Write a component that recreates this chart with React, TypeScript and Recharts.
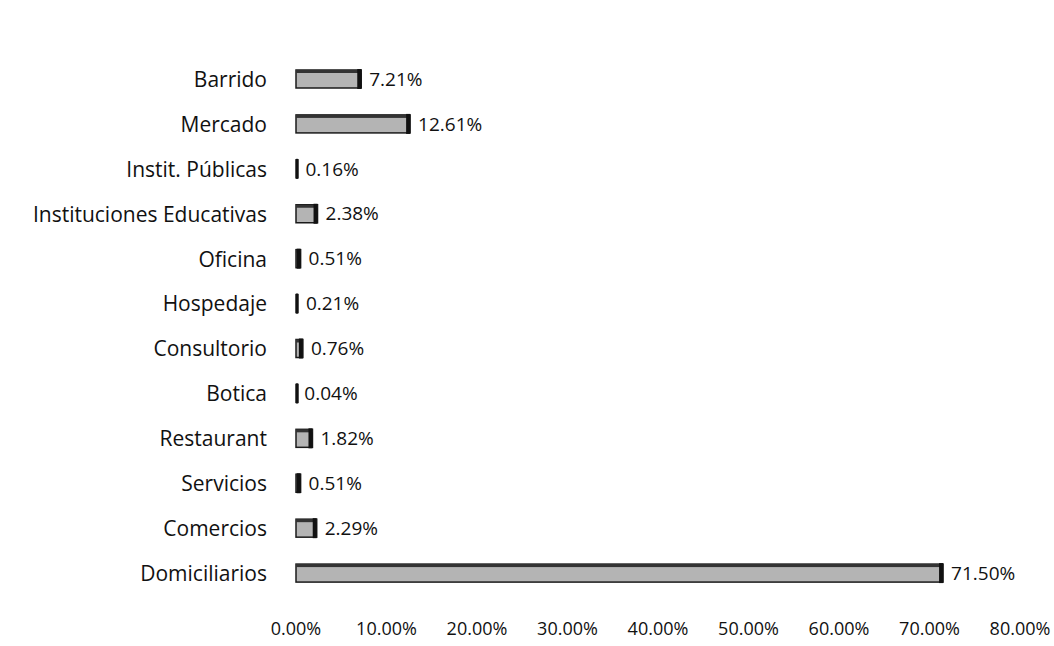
import React from 'react';
import { BarChart, Bar, XAxis, YAxis, LabelList } from 'recharts';

const categories = [
  'Barrido',
  'Mercado',
  'Instit. Públicas',
  'Instituciones Educativas',
  'Oficina',
  'Hospedaje',
  'Consultorio',
  'Botica',
  'Restaurant',
  'Servicios',
  'Comercios',
  'Domiciliarios',
];

const shares = [7.21, 12.61, 0.16, 2.38, 0.51, 0.21, 0.76, 0.04, 1.82, 0.51, 2.29, 71.5];

const xTicks = [0, 10, 20, 30, 40, 50, 60, 70, 80];

const data = categories.map((name, i) => ({ name, value: shares[i] }));

const font = 'Open Sans, Calibri, sans-serif';
const pct = (v: number) => `${Number(v).toFixed(2)}%`;

// grey bar with a dark outline and a heavy right edge, like the scanned original
const ScanBar = (props: any) => {
  const { x, y, width, height } = props;
  if (width == null || height == null) return null;
  const w = Math.max(width, 2);
  const edge = Math.min(4, w);
  return (
    <g>
      <rect x={x} y={y} width={w} height={height} fill="#b4b4b4" stroke="#1a1a1a" strokeWidth={1.5} />
      <rect x={x} y={y} width={w} height={3} fill="#333" />
      <rect x={x + w - edge} y={y - 1} width={edge} height={height + 2} fill="#111" />
    </g>
  );
};

export default function App() {
  return (
    <div style={{ position: 'absolute', left: 0, top: 0, background: '#fff', fontFamily: font }}>
      <BarChart
        width={1054}
        height={646}
        data={data}
        layout="vertical"
        margin={{ top: 57, right: 34, bottom: 0, left: 0 }}
      >
        <XAxis
          type="number"
          domain={[0, 80]}
          ticks={xTicks}
          tickFormatter={pct}
          axisLine={false}
          tickLine={false}
          tickSize={0}
          tickMargin={26}
          height={50}
          interval={0}
          tick={{ fill: '#111', fontSize: 18, fontFamily: font }}
        />
        <YAxis
          type="category"
          dataKey="name"
          width={296}
          axisLine={false}
          tickLine={false}
          tickSize={0}
          tickMargin={29}
          interval={0}
          tick={{ fill: '#111', fontSize: 21, fontFamily: font }}
        />
        <Bar
          dataKey="value"
          barSize={18}
          shape={ScanBar}
          isAnimationActive={false}
        >
          <LabelList
            dataKey="value"
            position="right"
            offset={8}
            formatter={pct}
            style={{ fill: '#111', fontSize: 19, fontFamily: font }}
          />
        </Bar>
      </BarChart>
    </div>
  );
}
